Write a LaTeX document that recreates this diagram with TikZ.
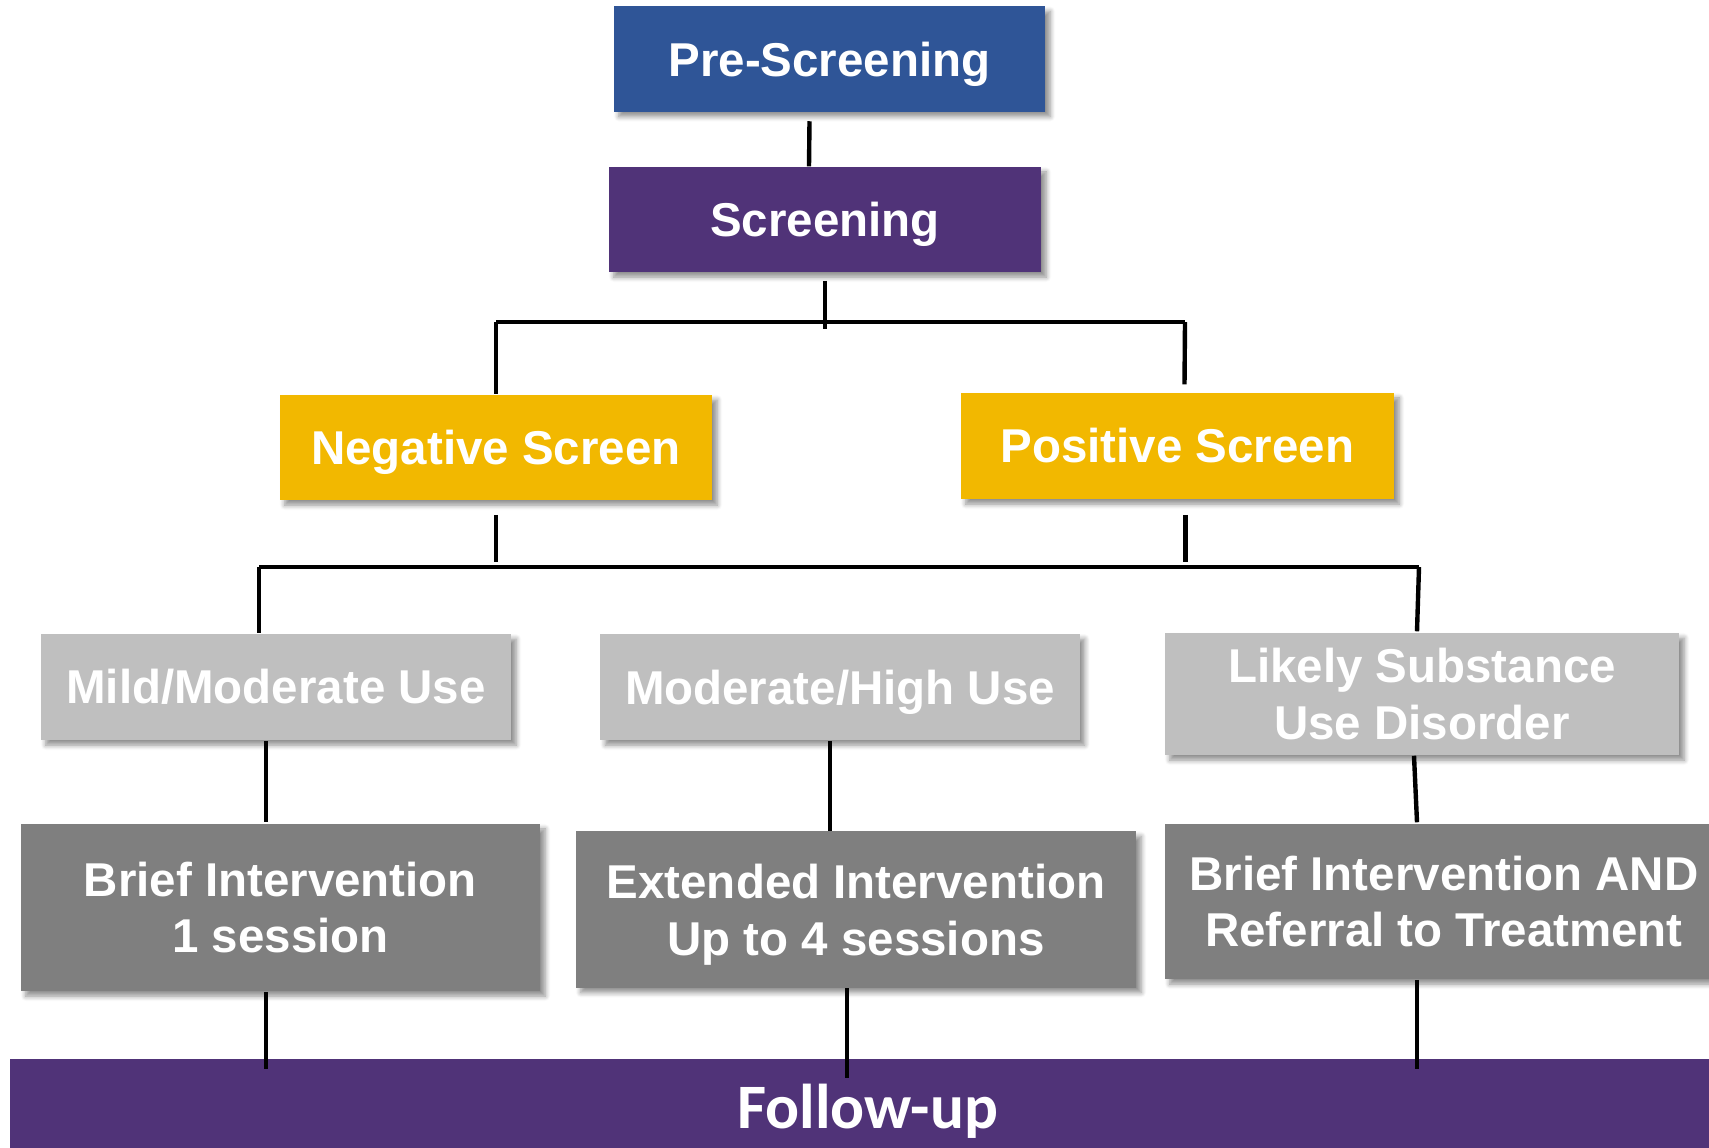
\documentclass[tikz,border=0pt]{standalone}
\usepackage{fontspec}
\setmainfont{Liberation Sans}
\newfontfamily\fufont{Carlito}
\usepackage{tikz}
\usetikzlibrary{calc, shadows.blur}

\definecolor{preblue}{HTML}{2F5597}
\definecolor{sbpurple}{HTML}{503378}
\definecolor{scryellow}{HTML}{F2B800}
\definecolor{uselight}{HTML}{BFBFBF}
\definecolor{intgray}{HTML}{7F7F7F}

\begin{document}
\begin{tikzpicture}[
    x=0.01cm, y=-0.01cm,
    box/.style={rectangle, inner sep=0pt, text=white, align=center,
                font=\fontsize{13.5}{16.2}\selectfont\bfseries,
                blur shadow={shadow xshift=0.5mm, shadow yshift=-0.5mm,
                             shadow blur radius=0.5mm, shadow blur steps=6,
                             shadow opacity=45}},
    link/.style={line width=1.25pt},
]
    \useasboundingbox (0,0) rectangle (1709,1147);

    % Screening steps
    \node[box, fill=preblue, text depth=0pt, minimum width=4.31cm, minimum height=1.05cm] (pre) at (829.5,59) {Pre-Screening};
    \node[box, fill=sbpurple, text depth=0pt, minimum width=4.32cm, minimum height=1.05cm] (scr) at (825,219.5) {Screening};

    % Screen results
    \node[box, fill=scryellow, text depth=0pt, minimum width=4.32cm, minimum height=1.05cm] (neg) at (496,447.5) {Negative Screen};
    \node[box, fill=scryellow, minimum width=4.33cm, minimum height=1.06cm] (pos) at (1177.5,446) {Positive Screen};

    % Use levels
    \node[box, fill=uselight, minimum width=4.70cm, minimum height=1.06cm] (mild) at (276,687) {Mild/Moderate Use};
    \node[box, fill=uselight, text depth=0pt, minimum width=4.79cm, minimum height=1.06cm] (modhigh) at (840,687) {Moderate/High Use};
    \node[box, fill=uselight, minimum width=5.14cm, minimum height=1.22cm] (likely) at (1422,694) {Likely Substance\\Use Disorder};

    % Interventions
    \node[box, fill=intgray, minimum width=5.19cm, minimum height=1.67cm] (bi) at (280.5,907.5) {Brief Intervention\\1 session};
    \node[box, fill=intgray, text depth=0pt, minimum width=5.60cm, minimum height=1.56cm] (ei) at (856,909.5) {Extended Intervention\\Up to 4 sessions};
    \node[box, fill=intgray, minimum width=5.58cm, minimum height=1.55cm] (birt) at (1444,901.5) {Brief Intervention AND\\Referral to Treatment};

    % Follow-up bar
    \node[rectangle, fill=sbpurple, inner sep=0pt, text depth=0pt, minimum width=17.15cm, minimum height=0.95cm,
          text=white, font=\fufont\bfseries\fontsize{18}{20}\selectfont] (fu) at (867.5,1106) {Follow-up};

    % Branch points
    \coordinate (barNW) at (496,322);
    \coordinate (barNE) at (1185,322);
    \coordinate (barSW) at (259,567);
    \coordinate (barSE) at (1419,567);

    % Pre-Screening -> Screening
    \draw[link] ($(pre.south)+(-20,9)$) -- ($(scr.north)+(-16,0)$);

    % Screening -> results
    \draw[link] ($(scr.south)+(0,8)$) -- ++(0,48);
    \draw[link] (barNW) -- (barNE);
    \draw[link] (barNW) -- (neg.north);
    \draw[link] (barNE) -- ($(pos.north)+(7,-8)$);

    % results -> use levels
    \draw[link] ($(neg.south)+(0,14)$) -- ++(0,47);
    \draw[link] ($(pos.south)+(8,15)$) -- ++(0,47);
    \draw[link] (barSW) -- (barSE);
    \draw[link] (barSW) -- ($(mild.north)+(-17,0)$);
    \draw[link] (barSE) -- ($(likely.north)+(-5,-1)$);

    % use levels -> interventions
    \draw[link] ($(mild.south)+(-10,0)$) -- ($(bi.north)+(-14.5,-1)$);
    \draw[link] ($(modhigh.south)+(-10,0)$) -- ($(ei.north)+(-26,0)$);
    \draw[link] ($(likely.south)+(-8,0)$) -- ($(birt.north)+(-27,-1)$);

    % interventions -> follow-up
    \draw[link] ($(bi.south)+(-14.5,0)$) -- ++(0,77);
    \draw[link] ($(ei.south)+(-9,0)$) -- ++(0,90);
    \draw[link] ($(birt.south)+(-27,0)$) -- ++(0,89);
\end{tikzpicture}
\end{document}
